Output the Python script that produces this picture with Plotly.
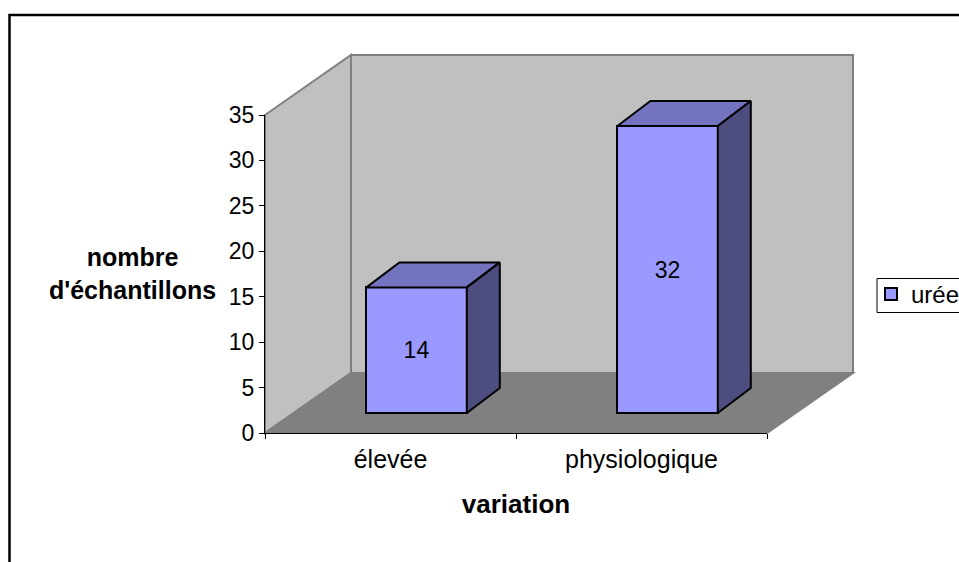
import plotly.graph_objects as go

categories = ["élevée", "physiologique"]
values = [14, 32]
series_name = "urée"
y_ticks = [0, 5, 10, 15, 20, 25, 30, 35]
x_title = "variation"
y_title = "nombre<br>d'échantillons"

FONT = "Liberation Sans, Arial, sans-serif"
W, H = 959, 562
L, R, T, B = 265, 99, 30, 129
PW, PH = W - L - R, H - T - B


def px(x):
    return (x - L) / PW


def py(y):
    return (H - B - y) / PH


def poly(pts):
    return "M" + "L".join(f"{px(a)},{py(b)}" for a, b in pts) + "Z"


# Plot scale (pixels per unit)
cat_px = 251
val_px = 8.97
bar_width = 0.4
bar_shift = 0.104
depth_x = 33 / cat_px
depth_y = 25 / val_px
left_off = bar_shift - bar_width / 2

fig = go.Figure()

# invisible trace that keeps the value axis subplot alive
fig.add_trace(go.Scatter(
    x=categories, y=values, xaxis="x", yaxis="y", mode="markers",
    marker=dict(opacity=0), showlegend=False, hoverinfo="skip"))

fig.add_trace(go.Bar(
    x=categories, y=values, name=series_name, xaxis="x", yaxis="y2",
    width=bar_width, offset=left_off,
    marker=dict(color="#9999FF", line=dict(color="black", width=2)),
    text=[str(v) for v in values], textposition="inside",
    insidetextanchor="middle", textangle=0,
    textfont=dict(family=FONT, size=23, color="black"),
))

for i, v in enumerate(values):
    l = i + left_off
    r = l + bar_width
    fig.add_trace(go.Scatter(
        x=[l, l + depth_x, r + depth_x, r, l],
        y=[v, v + depth_y, v + depth_y, v, v],
        xaxis="x2", yaxis="y2", mode="lines", fill="toself",
        fillcolor="#7373BF", line=dict(color="black", width=2),
        showlegend=False, hoverinfo="skip"))
    fig.add_trace(go.Scatter(
        x=[r, r + depth_x, r + depth_x, r, r],
        y=[v, v + depth_y, depth_y, 0, v],
        xaxis="x2", yaxis="y2", mode="lines", fill="toself",
        fillcolor="#4D4D7F", line=dict(color="black", width=2),
        showlegend=False, hoverinfo="skip"))

wall = "#C0C0C0"
floor = "#808080"
edge = dict(color="#808080", width=2)
shapes = [
    dict(type="path", xref="paper", yref="paper", layer="below", fillcolor=wall, line=edge,
         path=poly([(265, 115), (351, 55), (351, 373), (265, 433)])),
    dict(type="path", xref="paper", yref="paper", layer="below", fillcolor=wall, line=edge,
         path=poly([(351, 55), (853, 55), (853, 373), (351, 373)])),
    dict(type="path", xref="paper", yref="paper", layer="below", fillcolor=floor, line=edge,
         path=poly([(265, 433), (767, 433), (853, 373), (351, 373)])),
    dict(type="path", xref="paper", yref="paper", layer="below", fillcolor="rgba(0,0,0,0)",
         line=dict(color="black", width=2.5),
         path=f"M{px(9.5)},{py(580)}L{px(9.5)},{py(15)}L{px(980)},{py(15)}"),
    dict(type="path", xref="paper", yref="paper", layer="below", fillcolor="white",
         line=dict(color="black", width=1),
         path=f"M{px(980)},{py(278.5)}L{px(877)},{py(278.5)}L{px(877)},{py(312.5)}L{px(980)},{py(312.5)}Z"),
]

fig.update_layout(
    width=W, height=H, autosize=False,
    margin=dict(l=L, r=R, t=T, b=B, pad=0),
    paper_bgcolor="white", plot_bgcolor="rgba(0,0,0,0)",
    font=dict(family=FONT, size=23, color="black"),
    bargap=0, shapes=shapes,
    xaxis=dict(
        type="category", domain=[0, 502 / PW], range=[-0.5, 1.5], anchor="y",
        categoryorder="array", categoryarray=categories,
        tickson="boundaries", ticks="outside", ticklen=5, tickcolor="black", tickwidth=1,
        ticklabelstandoff=4,
        showline=True, linecolor="black", linewidth=1, showgrid=False, zeroline=False,
        tickfont=dict(family=FONT, size=25),
        title=dict(text=f"<b>{x_title}</b>", standoff=22, font=dict(family=FONT, size=26)),
    ),
    yaxis=dict(
        domain=[0, 318 / PH], range=[0, 35], anchor="x",
        tickmode="array", tickvals=y_ticks, ticktext=[str(t) for t in y_ticks],
        ticks="outside", ticklen=5, tickcolor="black", tickwidth=1,
        showline=True, linecolor="black", linewidth=1, showgrid=False, zeroline=False,
    ),
    xaxis2=dict(
        domain=[0, 1], range=[-0.5, -0.5 + PW / cat_px], anchor="y2", visible=False,
    ),
    yaxis2=dict(
        domain=[0, 1], range=[-(433 - 413) / val_px, (413 - T) / val_px], anchor="x2",
        visible=False,
    ),
    legend=dict(
        xref="container", yref="paper",
        x=876 / W, xanchor="left", y=py(272), yanchor="top", indentation=-5,
        bgcolor="rgba(0,0,0,0)", borderwidth=0,
        font=dict(family=FONT, size=24),
    ),
    annotations=[dict(
        text=f"<b>{y_title}</b>", xref="paper", yref="paper",
        x=px(132), y=py(273), xanchor="center", yanchor="middle", showarrow=False,
        align="center", font=dict(family=FONT, size=25),
    )],
)

fig.write_html(
    "out.html",
    config=dict(displayModeBar=False),
    post_script="document.body.style.margin='0';document.body.style.overflow='hidden';",
)
